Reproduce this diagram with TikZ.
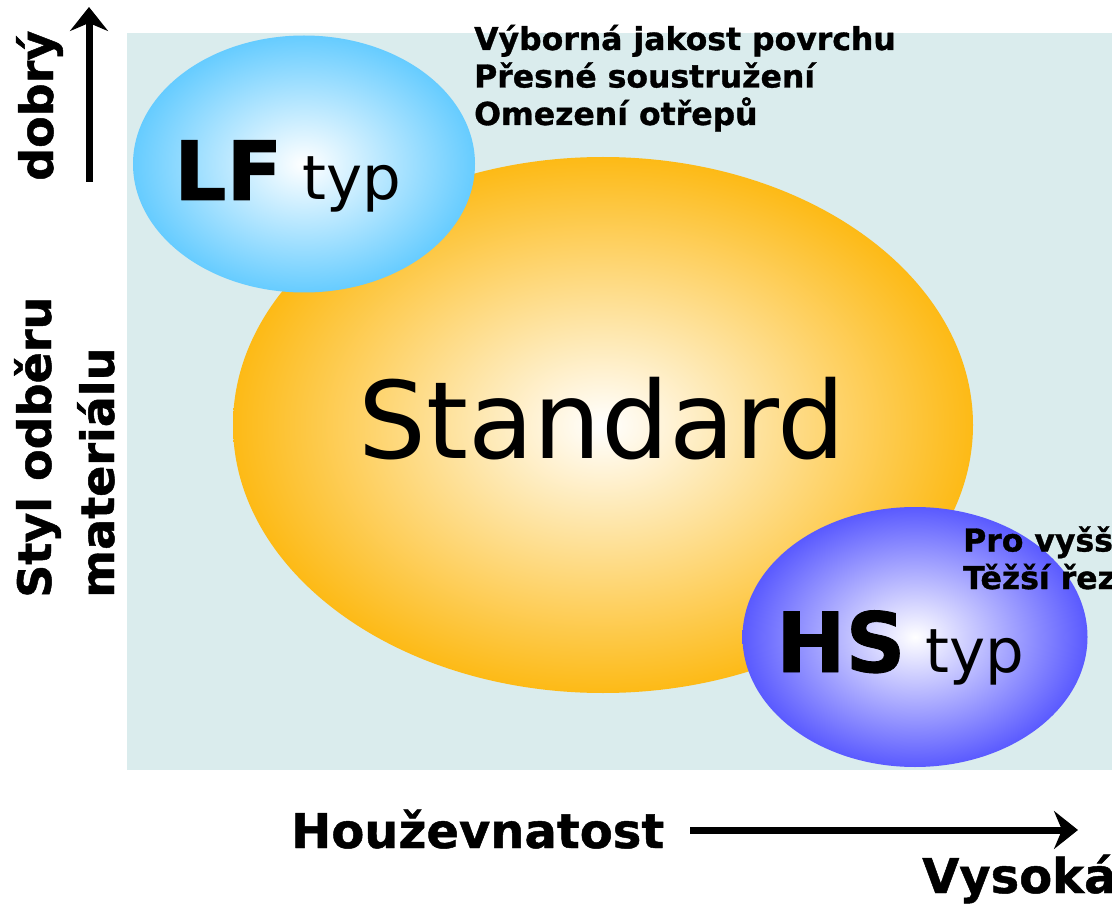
\documentclass[tikz,border=0pt]{standalone}
\usepackage{fontspec}
\setmainfont{DejaVu Sans}[BoldFeatures={FakeBold=1}]
\usetikzlibrary{arrows.meta,shapes.geometric}

\definecolor{pozadi}{RGB}{218,236,237}
\definecolor{oranz}{RGB}{253,186,22}
\definecolor{modra}{RGB}{102,204,255}
\definecolor{fialova}{RGB}{90,90,255}

\tikzset{
  oblast/.style={ellipse, inner sep=0pt, draw=none},
  popis/.style={inner sep=0pt, font=\fontsize{31.5}{37.5}\selectfont\bfseries, align=left},
  osa/.style={inner sep=0pt, font=\fontsize{46}{52}\selectfont\bfseries},
  sipka/.style={line width=7pt, -{Stealth[length=24pt,width=38pt,inset=8pt]}}
}

\begin{document}
\begin{tikzpicture}[x=1pt,y=-1pt]
\useasboundingbox (0,0) rectangle (1112,904);

%Shape: Rectangle [pozadi]
\fill [pozadi] (127,33) rectangle (1112,770);

%Shape: Ellipse [Standard]
\node [oblast, minimum width=740pt, minimum height=536pt, inner color=white, outer color=oranz] (std) at (603,425) {};
%Shape: Ellipse [LF]
\node [oblast, minimum width=342pt, minimum height=257pt, inner color=white, outer color=modra] (lf) at (304,164) {};
%Shape: Ellipse [HS]
\node [oblast, minimum width=345pt, minimum height=260pt, inner color=white, outer color=fialova] (hs) at (915,637) {};

%Text: uvnitr oblasti
\node [anchor=base west, inner sep=0pt, font=\fontsize{107}{110}\selectfont] (stdtxt) at (358,458) {Standard};
\node [anchor=base west, inner sep=0pt, font=\fontsize{82}{90}\selectfont\bfseries] (lfbig) at (174,200) {LF};
\node [anchor=base west, inner sep=0pt, font=\fontsize{61}{66}\selectfont] (lftyp) at (lfbig.base east) [xshift=20pt] {typ};
\node [anchor=base west, inner sep=0pt, font=\fontsize{83}{88}\selectfont\bfseries] (hsbig) at (776,672) {HS};
\node [anchor=base west, inner sep=0pt, font=\fontsize{61}{66}\selectfont] (hstyp) at (hsbig.base east) [xshift=20pt] {typ};

%Text: vlastnosti
\node [popis, anchor=base west] (lfpopis) at (474,125) {Výborná jakost povrchu\\Přesné soustružení\\Omezení otřepů};
\node [popis, anchor=base west] (hspopis) at (963,589) {Pro vyšší\\Těžší řez};

%Osy
\node [osa, rotate=90, anchor=base west] (dobry) at (53,181) {dobrý};
\node [osa, rotate=90, anchor=base west] (styl) at (51,598) {Styl odběru};
\node [osa, rotate=90, anchor=base west] (mat) at (114,598) {materiálu};
\node [osa, anchor=base west, font=\fontsize{48}{52}\selectfont\bfseries] (houz) at (291,848) {Houževnatost};
\node [osa, anchor=base west, font=\fontsize{48}{52}\selectfont\bfseries] (vys) at (922,893) {Vysoká};

\coordinate (ydole) at (89,182);
\coordinate (yhore) at (89,7);
\coordinate (xvlevo) at (690,830);
\coordinate (xvpravo) at (1078,830);
\draw [sipka] (ydole) -- (yhore);
\draw [sipka] (xvlevo) -- (xvpravo);

\end{tikzpicture}
\end{document}
